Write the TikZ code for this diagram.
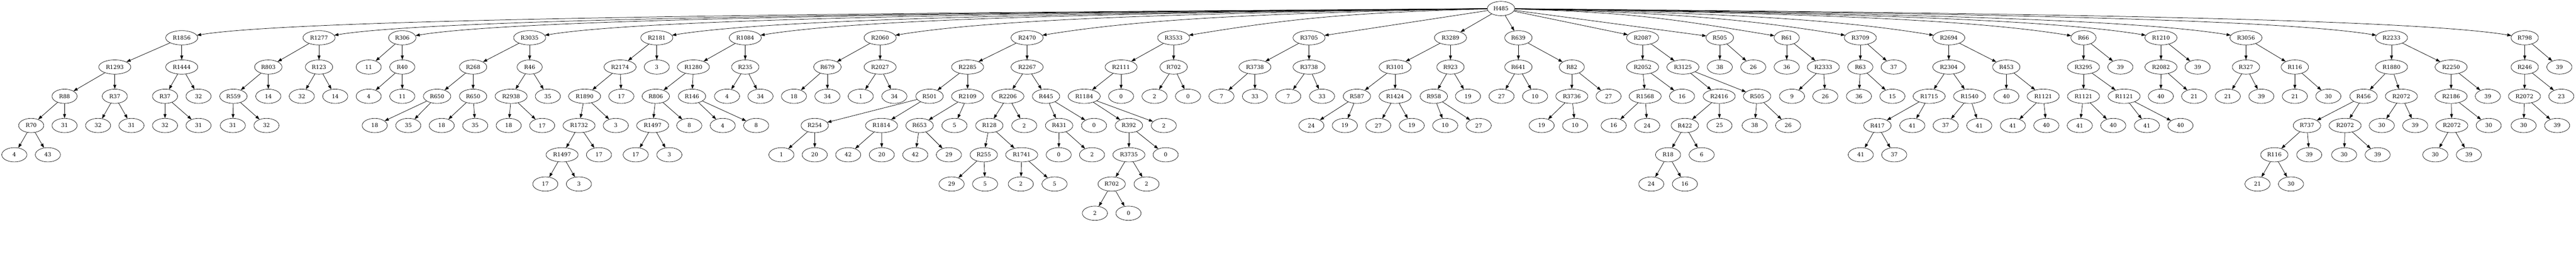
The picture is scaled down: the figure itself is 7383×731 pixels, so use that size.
\documentclass[tikz,border=0pt]{standalone}
\usepackage{fontspec}
\setmainfont{DejaVu Serif}
\usetikzlibrary{shapes.geometric,arrows.meta}
\begin{document}
\begin{tikzpicture}[x=1pt,y=-1pt,
  nd/.style={draw, ellipse, inner sep=0pt, minimum height=41pt, line width=1pt, font=\fontsize{15.5}{18}\selectfont},
  sa/.style={nd, minimum width=72pt},
  sb/.style={nd, minimum width=78.5pt},
  sc/.style={nd, minimum width=92pt},
  ed/.style={-{Triangle[length=12pt,width=8.5pt]}, line width=1.1pt}]
\fill[white] (0,0) rectangle (7383,731);
\useasboundingbox (0,0) rectangle (7383,731);
\node[sb] (h) at (4302,24.5) {H485};
% 1
\node[sc] (a) at (520.8,108.5) {R1856};
\node[sc] (a1) at (329,192.5) {R1293};
\node[sc] (a2) at (520.8,192.5) {R1444};
\node[sa] (a11) at (185,276.5) {R88};
\node[sa] (a12) at (329,276.5) {R37};
\node[sa] (a21) at (472.9,276.5) {R37};
\node[sa] (a22) at (569,276.5) {32};
\node[sa] (a111) at (89.4,360.5) {R70};
\node[sa] (a112) at (185,360.5) {31};
\node[sa] (a121) at (281.1,360.5) {32};
\node[sa] (a122) at (376.8,360.5) {31};
\node[sa] (a211) at (472.9,360.5) {32};
\node[sa] (a212) at (569,360.5) {31};
\node[sa] (a1111) at (41.1,444.5) {4};
\node[sa] (a1112) at (137.2,444.5) {43};
% 2
\node[sc] (b) at (914.3,108.5) {R1277};
\node[sb] (b1) at (769,192.5) {R803};
\node[sb] (b2) at (914.3,192.5) {R123};
\node[sb] (b11) at (669,276.5) {R559};
\node[sa] (b12) at (769,276.5) {14};
\node[sa] (b21) at (865,276.5) {32};
\node[sa] (b22) at (960.8,276.5) {14};
\node[sa] (b111) at (667.3,360.5) {31};
\node[sa] (b112) at (763.7,360.5) {32};
% 3
\node[sb] (c) at (1153,108.5) {R306};
\node[sa] (c1) at (1056.7,192.5) {11};
\node[sa] (c2) at (1153,192.5) {R40};
\node[sa] (c21) at (1056.7,276.5) {4};
\node[sa] (c22) at (1153,276.5) {11};
% 4
\node[sc] (d) at (1518,108.5) {R3035};
\node[sb] (d1) at (1355.9,192.5) {R268};
\node[sa] (d2) at (1518,192.5) {R46};
\node[sb] (d11) at (1252.7,276.5) {R650};
\node[sb] (d12) at (1355.9,276.5) {R650};
\node[sc] (d21) at (1464.9,276.5) {R2938};
\node[sa] (d22) at (1570.2,276.5) {35};
\node[sa] (d111) at (1073.9,360.5) {18};
\node[sa] (d112) at (1170.2,360.5) {35};
\node[sa] (d121) at (1266,360.5) {18};
\node[sa] (d122) at (1362,360.5) {35};
\node[sa] (d211) at (1458,360.5) {18};
\node[sa] (d212) at (1553.9,360.5) {17};
% 5
\node[sc] (e) at (1882.4,108.5) {R2181};
\node[sc] (e1) at (1777.1,192.5) {R2174};
\node[sa] (e2) at (1882.4,192.5) {3};
\node[sc] (e11) at (1675.5,276.5) {R1890};
\node[sa] (e12) at (1780.8,276.5) {17};
\node[sc] (e111) at (1659.6,360.5) {R1732};
\node[sa] (e112) at (1764.9,360.5) {3};
\node[sc] (e1111) at (1611,444.5) {R1497};
\node[sa] (e1112) at (1716.7,444.5) {17};
\node[sa] (e11111) at (1562.9,528.5) {17};
\node[sa] (e11112) at (1659.2,528.5) {3};
% 6
\node[sc] (f) at (2135.9,108.5) {R1084};
\node[sc] (f1) at (1987.3,192.5) {R1280};
\node[sb] (f2) at (2135.9,192.5) {R235};
\node[sb] (f11) at (1879.6,276.5) {R806};
\node[sb] (f12) at (1983.3,276.5) {R146};
\node[sa] (f21) at (2083.7,276.5) {4};
\node[sa] (f22) at (2179.6,276.5) {34};
\node[sc] (f111) at (1870.6,360.5) {R1497};
\node[sa] (f112) at (1975.5,360.5) {8};
\node[sa] (f121) at (2071.4,360.5) {4};
\node[sa] (f122) at (2167.3,360.5) {8};
\node[sa] (f1111) at (1822,444.5) {17};
\node[sa] (f1112) at (1918.4,444.5) {3};
% 7
\node[sc] (g) at (2522.4,108.5) {R2060};
\node[sb] (g1) at (2371.4,192.5) {R679};
\node[sc] (g2) at (2522.4,192.5) {R2027};
\node[sa] (g11) at (2275.5,276.5) {18};
\node[sa] (g12) at (2371.4,276.5) {34};
\node[sa] (g21) at (2467,276.5) {1};
\node[sa] (g22) at (2563.3,276.5) {34};
% 8
\node[sc] (i) at (2943.7,108.5) {R2470};
\node[sc] (i1) at (2773.1,192.5) {R2285};
\node[sc] (i2) at (2943.7,192.5) {R2267};
\node[sb] (i11) at (2664.1,276.5) {R501};
\node[sc] (i12) at (2773.1,276.5) {R2109};
\node[sc] (i21) at (2888.6,276.5) {R2206};
\node[sb] (i22) at (2998,276.5) {R445};
\node[sb] (i111) at (2335.1,360.5) {R254};
\node[sc] (i112) at (2526.5,360.5) {R1814};
\node[sb] (i121) at (2635.5,360.5) {R653};
\node[sa] (i122) at (2735.5,360.5) {5};
\node[sb] (i211) at (2835.5,360.5) {R128};
\node[sa] (i212) at (2935.5,360.5) {2};
\node[sb] (i221) at (3035.5,360.5) {R431};
\node[sa] (i222) at (3135.5,360.5) {0};
\node[sa] (i1111) at (2239.6,444.5) {1};
\node[sa] (i1112) at (2335.1,444.5) {20};
\node[sa] (i1121) at (2431,444.5) {42};
\node[sa] (i1122) at (2527.3,444.5) {20};
\node[sa] (i1211) at (2623.3,444.5) {42};
\node[sa] (i1212) at (2719.6,444.5) {29};
\node[sb] (i2111) at (2819.6,444.5) {R255};
\node[sc] (i2112) at (2928.2,444.5) {R1741};
\node[sa] (i2211) at (3034.3,444.5) {0};
\node[sa] (i2212) at (3129.8,444.5) {2};
\node[sa] (i21111) at (2727.3,528.5) {29};
\node[sa] (i21112) at (2823.3,528.5) {5};
\node[sa] (i21121) at (2925.7,528.5) {2};
\node[sa] (i21122) at (3022.4,528.5) {5};
% 9
\node[sc] (j) at (3363.7,108.5) {R3533};
\node[sc] (j1) at (3213.1,192.5) {R2111};
\node[sb] (j2) at (3363.7,192.5) {R702};
\node[sc] (j11) at (3107.3,276.5) {R1184};
\node[sa] (j12) at (3213.1,276.5) {0};
\node[sa] (j21) at (3309,276.5) {2};
\node[sa] (j22) at (3404.9,276.5) {0};
\node[sb] (j111) at (3235.5,360.5) {R392};
\node[sa] (j112) at (3335.5,360.5) {2};
\node[sc] (j1111) at (3235.5,444.5) {R3735};
\node[sa] (j1112) at (3340.8,444.5) {0};
\node[sb] (j11111) at (3186.1,528.5) {R702};
\node[sa] (j11112) at (3286.1,528.5) {2};
\node[sa] (j111111) at (3138,612.5) {2};
\node[sa] (j111112) at (3234.3,612.5) {0};
% 10
\node[sc] (k) at (3751.8,108.5) {R3705};
\node[sc] (k1) at (3596.7,192.5) {R3738};
\node[sc] (k2) at (3751.8,192.5) {R3738};
\node[sa] (k11) at (3500.8,276.5) {7};
\node[sa] (k12) at (3596.7,276.5) {33};
\node[sa] (k21) at (3692.2,276.5) {7};
\node[sa] (k22) at (3789,276.5) {33};
% 11
\node[sc] (l) at (4157.1,108.5) {R3289};
\node[sc] (l1) at (3998.4,192.5) {R3101};
\node[sb] (l2) at (4157.1,192.5) {R923};
\node[sb] (l11) at (3889,276.5) {R587};
\node[sc] (l12) at (3998.4,276.5) {R1424};
\node[sb] (l21) at (4109.4,276.5) {R958};
\node[sa] (l22) at (4207.3,276.5) {19};
\node[sa] (l111) at (3758.4,360.5) {24};
\node[sa] (l112) at (3854.3,360.5) {19};
\node[sa] (l121) at (3950.2,360.5) {27};
\node[sa] (l122) at (4046.1,360.5) {19};
\node[sa] (l211) at (4142,360.5) {10};
\node[sa] (l212) at (4238,360.5) {27};
% 12
\node[sb] (m) at (4351.8,108.5) {R639};
\node[sb] (m1) at (4351.8,192.5) {R641};
\node[sa] (m2) at (4504.9,192.5) {R82};
\node[sa] (m11) at (4303.5,276.5) {27};
\node[sa] (m12) at (4399.6,276.5) {10};
\node[sc] (m21) at (4504.9,276.5) {R3736};
\node[sa] (m22) at (4610.2,276.5) {27};
\node[sa] (m211) at (4418.4,360.5) {19};
\node[sa] (m212) at (4514.3,360.5) {10};
% 13
\node[sc] (n) at (4707.8,108.5) {R2087};
\node[sc] (n1) at (4707.8,192.5) {R2052};
\node[sc] (n2) at (4823.3,192.5) {R3125};
\node[sc] (n11) at (4715.1,276.5) {R1568};
\node[sa] (n12) at (4820.8,276.5) {16};
\node[sc] (n21) at (4927.3,276.5) {R2416};
\node[sb] (n22) at (5035.9,276.5) {R505};
\node[sa] (n111) at (4624.9,360.5) {16};
\node[sa] (n112) at (4720.8,360.5) {24};
\node[sb] (n211) at (4829,360.5) {R422};
\node[sa] (n212) at (4928.2,360.5) {25};
\node[sa] (n221) at (5029,360.5) {38};
\node[sa] (n222) at (5124.9,360.5) {26};
\node[sa] (n2111) at (4780.8,444.5) {R18};
\node[sa] (n2112) at (4877.1,444.5) {6};
\node[sa] (n21111) at (4732.7,528.5) {24};
\node[sa] (n21112) at (4829,528.5) {16};
% 14
\node[sb] (o) at (4929,108.5) {R505};
\node[sa] (o1) at (4929,192.5) {38};
\node[sa] (o2) at (5024.9,192.5) {26};
% 15
\node[sa] (p) at (5120.8,108.5) {R61};
\node[sa] (p1) at (5120.8,192.5) {36};
\node[sc] (p2) at (5225.7,192.5) {R2333};
\node[sa] (p21) at (5135.9,276.5) {9};
\node[sa] (p22) at (5231.4,276.5) {26};
% 16
\node[sc] (q) at (5331.8,108.5) {R3709};
\node[sa] (q1) at (5331.8,192.5) {R63};
\node[sa] (q2) at (5427.3,192.5) {37};
\node[sa] (q11) at (5327.8,276.5) {36};
\node[sa] (q12) at (5423.7,276.5) {15};
% 17
\node[sc] (r) at (5585.3,108.5) {R2694};
\node[sc] (r1) at (5585.3,192.5) {R2304};
\node[sb] (r2) at (5750.2,192.5) {R453};
\node[sc] (r11) at (5529,276.5) {R1715};
\node[sc] (r12) at (5644.9,276.5) {R1540};
\node[sa] (r21) at (5750.2,276.5) {40};
\node[sc] (r22) at (5855.9,276.5) {R1121};
\node[sb] (r111) at (5380.8,360.5) {R417};
\node[sa] (r112) at (5480.8,360.5) {41};
\node[sa] (r121) at (5576.3,360.5) {37};
\node[sa] (r122) at (5672.7,360.5) {41};
\node[sa] (r221) at (5769,360.5) {41};
\node[sa] (r222) at (5864.9,360.5) {40};
\node[sa] (r1111) at (5333.1,444.5) {41};
\node[sa] (r1112) at (5429,444.5) {37};
% 18
\node[sa] (s) at (5971.4,108.5) {R66};
\node[sc] (s1) at (5971.4,192.5) {R3295};
\node[sa] (s2) at (6077.1,192.5) {39};
\node[sc] (s11) at (5971.4,276.5) {R1121};
\node[sc] (s12) at (6087.8,276.5) {R1121};
\node[sa] (s111) at (5960.8,360.5) {41};
\node[sa] (s112) at (6056.7,360.5) {40};
\node[sa] (s121) at (6153.1,360.5) {41};
\node[sa] (s122) at (6249.4,360.5) {40};
% 19
\node[sc] (t) at (6193.5,108.5) {R1210};
\node[sc] (t1) at (6193.5,192.5) {R2082};
\node[sa] (t2) at (6298.4,192.5) {39};
\node[sa] (t11) at (6193.1,276.5) {40};
\node[sa] (t12) at (6288.6,276.5) {21};
% 20
\node[sc] (u) at (6437.1,108.5) {R3056};
\node[sb] (u1) at (6437.1,192.5) {R327};
\node[sb] (u2) at (6577.1,192.5) {R116};
\node[sa] (u11) at (6384.9,276.5) {21};
\node[sa] (u12) at (6481.2,276.5) {39};
\node[sa] (u21) at (6577.1,276.5) {21};
\node[sa] (u22) at (6673.1,276.5) {30};
% 21
\node[sc] (v) at (6854.2,108.5) {R2233};
\node[sc] (v1) at (6854.2,192.5) {R1880};
\node[sc] (v2) at (7025,192.5) {R2250};
\node[sb] (v11) at (6774,276.5) {R456};
\node[sc] (v12) at (6882.4,276.5) {R2072};
\node[sc] (v21) at (7025,276.5) {R2186};
\node[sa] (v22) at (7130.3,276.5) {39};
\node[sb] (v111) at (6611.8,360.5) {R737};
\node[sc] (v112) at (6721.2,360.5) {R2072};
\node[sa] (v121) at (6826.3,360.5) {30};
\node[sa] (v122) at (6922.1,360.5) {39};
\node[sc] (v211) at (7027,360.5) {R2072};
\node[sa] (v212) at (7132.7,360.5) {30};
\node[sb] (v1111) at (6518.4,444.5) {R116};
\node[sa] (v1112) at (6618.4,444.5) {39};
\node[sa] (v1121) at (6718.4,444.5) {30};
\node[sa] (v1122) at (6814.4,444.5) {39};
\node[sa] (v2111) at (6979.7,444.5) {30};
\node[sa] (v2112) at (7075.9,444.5) {39};
\node[sa] (v11111) at (6470.2,528.5) {21};
\node[sa] (v11112) at (6566.1,528.5) {30};
% 22
\node[sb] (w) at (7236,108.5) {R798};
\node[sb] (w1) at (7236,192.5) {R246};
\node[sa] (w2) at (7335.3,192.5) {39};
\node[sc] (w11) at (7235.2,276.5) {R2072};
\node[sa] (w12) at (7340.9,276.5) {23};
\node[sa] (w111) at (7232.8,360.5) {30};
\node[sa] (w112) at (7328.9,360.5) {39};
% tree edges
\foreach \p/\c in {a/a1,a/a2,a1/a11,a1/a12,a2/a21,a2/a22,a11/a111,a11/a112,a12/a121,a12/a122,a21/a211,a21/a212,a111/a1111,a111/a1112,
 b/b1,b/b2,b1/b11,b1/b12,b2/b21,b2/b22,b11/b111,b11/b112,
 c/c1,c/c2,c2/c21,c2/c22,
 d/d1,d/d2,d1/d11,d1/d12,d2/d21,d2/d22,d11/d111,d11/d112,d12/d121,d12/d122,d21/d211,d21/d212,
 e/e1,e/e2,e1/e11,e1/e12,e11/e111,e11/e112,e111/e1111,e111/e1112,e1111/e11111,e1111/e11112,
 f/f1,f/f2,f1/f11,f1/f12,f2/f21,f2/f22,f11/f111,f11/f112,f12/f121,f12/f122,f111/f1111,f111/f1112,
 g/g1,g/g2,g1/g11,g1/g12,g2/g21,g2/g22,
 i/i1,i/i2,i1/i11,i1/i12,i2/i21,i2/i22,i11/i111,i11/i112,i12/i121,i12/i122,i21/i211,i21/i212,i22/i221,i22/i222,
 i112/i1121,i112/i1122,i111/i1111,i111/i1112,i121/i1211,i121/i1212,i211/i2111,i211/i2112,i221/i2211,i221/i2212,
 i2111/i21111,i2111/i21112,i2112/i21121,i2112/i21122,
 j/j1,j/j2,j1/j11,j1/j12,j2/j21,j2/j22,j11/j111,j11/j112,j111/j1111,j111/j1112,j1111/j11111,j1111/j11112,j11111/j111111,j11111/j111112,
 k/k1,k/k2,k1/k11,k1/k12,k2/k21,k2/k22,
 l/l1,l/l2,l1/l11,l1/l12,l2/l21,l2/l22,l11/l111,l11/l112,l12/l121,l12/l122,l21/l211,l21/l212,
 m/m1,m/m2,m1/m11,m1/m12,m2/m21,m2/m22,m21/m211,m21/m212,
 n/n1,n/n2,n1/n11,n1/n12,n2/n21,n2/n22,n11/n111,n11/n112,n21/n211,n21/n212,n22/n221,n22/n222,n211/n2111,n211/n2112,n2111/n21111,n2111/n21112,
 o/o1,o/o2,
 p/p1,p/p2,p2/p21,p2/p22,
 q/q1,q/q2,q1/q11,q1/q12,
 r/r1,r/r2,r1/r11,r1/r12,r2/r21,r2/r22,r11/r111,r11/r112,r12/r121,r12/r122,r22/r221,r22/r222,r111/r1111,r111/r1112,
 s/s1,s/s2,s1/s11,s1/s12,s11/s111,s11/s112,s12/s121,s12/s122,
 t/t1,t/t2,t1/t11,t1/t12,
 u/u1,u/u2,u1/u11,u1/u12,u2/u21,u2/u22,
 v/v1,v/v2,v1/v11,v1/v12,v11/v111,v11/v112,v111/v1111,v111/v1112,v1111/v11111,v1111/v11112,v112/v1121,v112/v1122,
 v12/v121,v12/v122,v2/v21,v2/v22,v21/v211,v21/v212,v211/v2111,v211/v2112,
 w/w1,w/w2,w1/w11,w1/w12,w11/w111,w11/w112,
 h/k,h/l,h/m,h/n,h/o}
 \draw[ed] (\p) -- (\c);
% root edges to far nodes
\foreach \c/\dx in {a/1701.5,b/1524.5,c/1417.1,d/1252.8,e/1088.8,f/974.7,g/800.8,i/611.2,j/422.2}
 \draw[ed] (h) .. controls +(-\dx,12) and +(350,-58) .. (\c);
\foreach \c/\dx in {p/368.5,q/463.4,r/577.5,s/751.2,t/851.2,u/960.8,v/1148.5,w/1320.3}
 \draw[ed] (h) .. controls +(\dx,12) and +(-350,-58) .. (\c);
\end{tikzpicture}
\end{document}
